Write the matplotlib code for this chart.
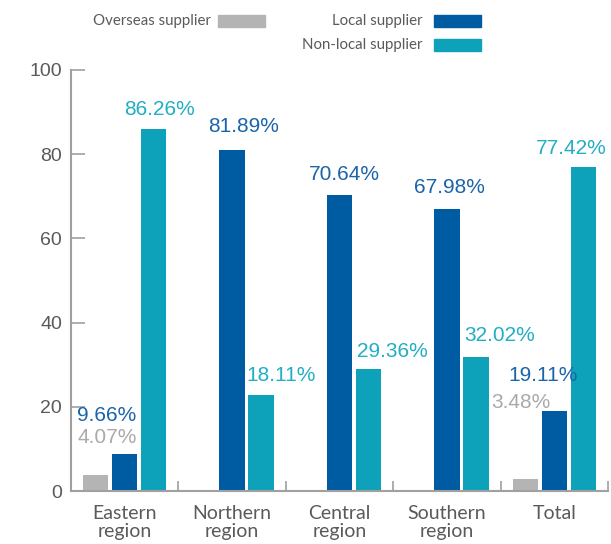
import matplotlib
matplotlib.use("Agg")
import matplotlib.pyplot as plt
from matplotlib.patches import Rectangle
import numpy as np

# data
regions = ["Eastern\nregion", "Northern\nregion", "Central\nregion", "Southern\nregion", "Total"]
series = ["Overseas supplier", "Local supplier", "Non-local supplier"]
overseas = [3.9, 0, 0, 0, 2.9]
local = [8.9, 81.0, 70.2, 67.1, 19.0]
nonlocal_ = [86.0, 22.9, 29.0, 31.9, 77.0]
overseas_lbl = ["4.07%", "", "", "", "3.48%"]
local_lbl = ["9.66%", "81.89%", "70.64%", "67.98%", "19.11%"]
nonlocal_lbl = ["86.26%", "18.11%", "29.36%", "32.02%", "77.42%"]

bar_colors = ["#b4b4b4", "#005ca2", "#0ea2ba"]
text_colors = ["#aaaaaa", "#1b63aa", "#22aec4"]
grey = "#5a5a5a"
axis_grey = "#a0a0a0"

# label offsets in pixels from the bar top (dx, dy)
offsets = {
    0: {0: (11, 37), 4: (-4, 76)},
    1: {0: (-18, 38), 1: (11, 23), 2: (5, 21), 3: (3, 21), 4: (-11, 36)},
    2: {0: (6, 19), 1: (20, 19), 2: (24, 17), 3: (24, 21), 4: (-12, 18)},
}

fig = plt.figure(figsize=(6.11, 5.44), dpi=100)
ax = fig.add_axes([71 / 611, 53 / 544, 537 / 611, 421 / 544])

x = np.arange(len(regions))
step = 0.27
width = 0.235
all_vals = [overseas, local, nonlocal_]
all_lbls = [overseas_lbl, local_lbl, nonlocal_lbl]
for s in range(3):
    xs = x + (s - 1) * step
    vals = all_vals[s]
    ax.bar(xs, vals, width=width, color=bar_colors[s], zorder=2)
    for g in range(len(regions)):
        if all_lbls[s][g] == "":
            continue
        dx, dy = offsets[s][g]
        ax.annotate(all_lbls[s][g], (xs[g], vals[g]), xytext=(dx, dy),
                    textcoords="offset pixels", ha="center", va="center",
                    color=text_colors[s], fontsize=15, family="Liberation Sans",
                    annotation_clip=False)

ax.set_xlim(-0.5, 4.5)
ax.set_ylim(0, 100)
ax.set_yticks(range(0, 101, 20))
ax.set_xticks(x)
ax.set_xticklabels(regions, family="Lato", fontsize=14, color=grey, linespacing=1.1)
ax.set_xticks(np.arange(0.5, 4.6, 1), minor=True)
ax.tick_params(axis="x", which="major", length=0, pad=10)
ax.tick_params(axis="x", which="minor", direction="in", length=7, color=axis_grey, width=1.2)
ax.tick_params(axis="y", direction="in", length=10, color=axis_grey, width=1.2,
               pad=6.5, labelsize=14, labelcolor=grey)
for t in ax.get_yticklabels():
    t.set_family("Liberation Sans")

for side in ["top", "right"]:
    ax.spines[side].set_visible(False)
for side in ["left", "bottom"]:
    ax.spines[side].set_color(axis_grey)
    ax.spines[side].set_linewidth(1.5)

# legend drawn by hand at the top
W, H = 611, 544
leg = [(211, 21, 218), (422, 21, 434), (422, 45, 434)]
for s in range(3):
    tx, ty, px = leg[s]
    fig.text(tx / W, 1 - ty / H, series[s], ha="right", va="center",
             family="Lato", fontsize=10.8, color=grey)
    fig.add_artist(Rectangle((px / W, 1 - (ty + 6) / H), 47 / W, 12 / H,
                             transform=fig.transFigure, color=bar_colors[s]))

plt.savefig("out.png", dpi=100)
